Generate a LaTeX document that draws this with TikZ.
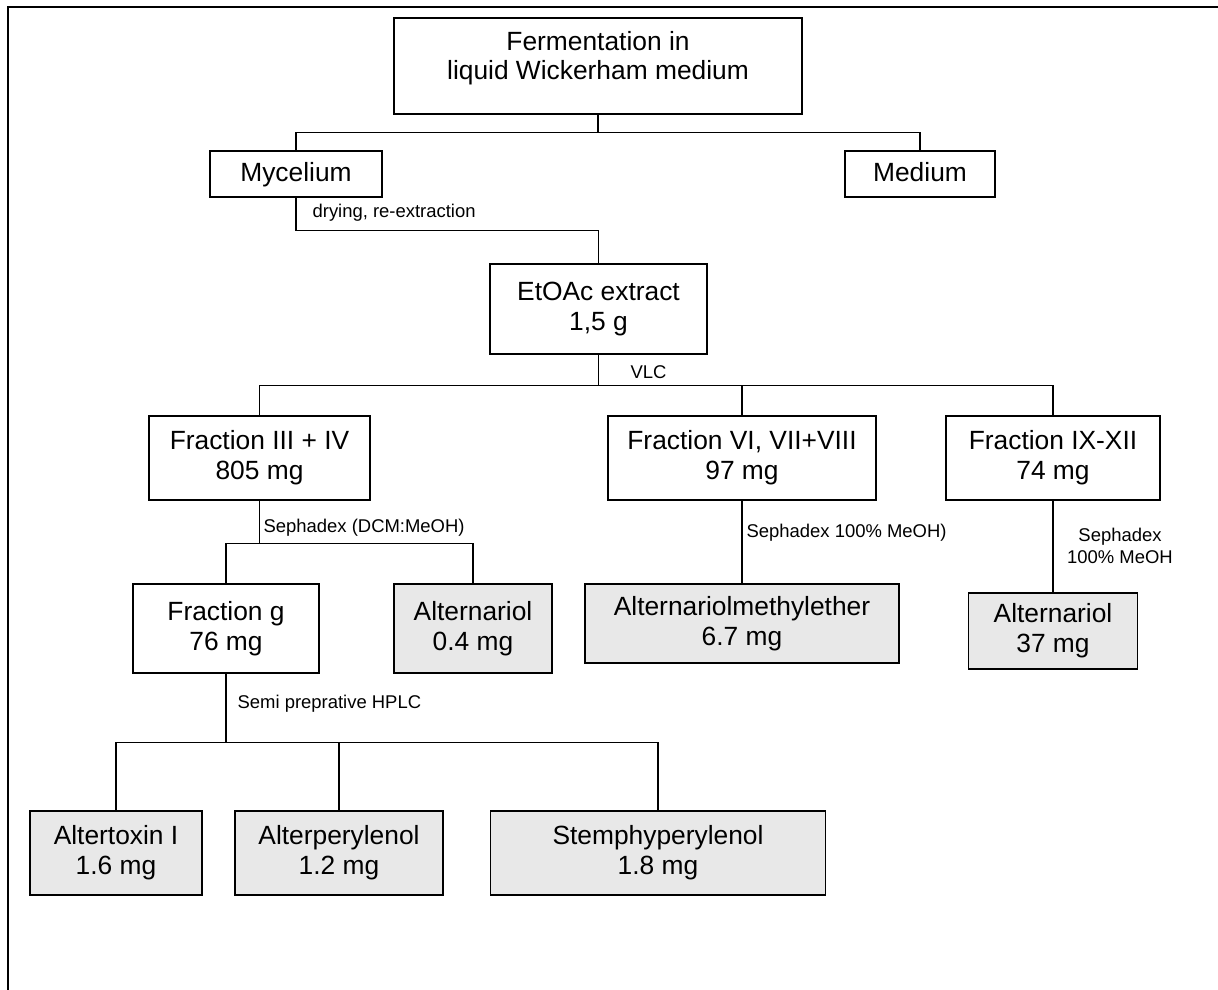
\documentclass[tikz,border=0pt]{standalone}
\usepackage{fontspec}
\setmainfont{Liberation Sans}
\usetikzlibrary{positioning}
\usetikzlibrary{calc}
\definecolor{isolgray}{RGB}{232,232,232}
\tikzset{
  box/.style={draw, line width=0.7pt, align=center, inner sep=0pt, font=\fontsize{15}{17}\selectfont},
  isol/.style={box, fill=isolgray},
  note/.style={inner sep=0pt, anchor=west, font=\fontsize{10.5}{12.5}\selectfont}
}

\begin{document}
\begin{tikzpicture}[x=0.02cm, y=-0.02cm, line width=0.7pt]
\useasboundingbox (0,0) rectangle (1218,990);
\draw[line width=1.5pt] (8,990) -- (8,7) -- (1218,7);

\node (A1) [box, minimum width=8.16cm, minimum height=1.92cm, text depth=12pt] at (598,66) {Fermentation in\\liquid Wickerham medium};

\node (B1) [box, minimum width=3.44cm, minimum height=0.92cm, text height=11pt, text depth=3pt] at (296,174) {Mycelium};
\node (B2) [box, minimum width=3.00cm, minimum height=0.92cm, text height=11pt, text depth=3pt] at (920,174) {Medium};

\node (C1) [box, minimum width=4.34cm, minimum height=1.80cm] at (598.5,309) {EtOAc extract\\1,5 g};

\node (D1) [box, minimum width=4.42cm, minimum height=1.68cm] at (259.5,458) {Fraction III + IV\\805 mg};
\node (D2) [box, minimum width=5.36cm, minimum height=1.68cm] at (742,458) {Fraction VI, VII+VIII\\97 mg};
\node (D3) [box, minimum width=4.28cm, minimum height=1.68cm] at (1053,458) {Fraction IX-XII\\74 mg};

\node (E1) [box, minimum width=3.72cm, minimum height=1.78cm] at (226,628.5) {Fraction g\\76 mg};
\node (E2) [isol, minimum width=3.16cm, minimum height=1.78cm] at (473,628.5) {Alternariol\\0.4 mg};
\node (E3) [isol, minimum width=6.28cm, minimum height=1.58cm] at (742,623.5) {Alternariolmethylether\\6.7 mg};
\node (E4) [isol, minimum width=3.38cm, minimum height=1.52cm] at (1053,631) {Alternariol\\37 mg};

\node (F1) [isol, minimum width=3.44cm, minimum height=1.68cm] at (116,853) {Altertoxin I\\1.6 mg};
\node (F2) [isol, minimum width=4.16cm, minimum height=1.68cm] at (339,853) {Alterperylenol\\1.2 mg};
\node (F3) [isol, minimum width=6.70cm, minimum height=1.68cm] at (658,853) {Stemphyperylenol\\1.8 mg};

\node (L1) [note] at (312,213) {drying, re-extraction};
\node (L2) [note] at (630,372) {VLC};
\node (L3) [note] at (263,528) {Sephadex (DCM:MeOH)};
\node (L4) [note] at (746,533) {Sephadex 100\% MeOH)};
\node (L5) [note, anchor=center, align=center] at (1120,546) {Sephadex\\100\% MeOH};
\node (L6) [note] at (237,704) {Semi preprative HPLC};

\draw (A1.south) -- ++(0,18) -| (B1.north);
\draw (A1.south) -- ++(0,18) -| (B2.north);
\draw (B1.south) -- ++(0,33) -| (C1.north);
\draw (C1.south) -- ++(0,31) -| (D1.north);
\draw (C1.south) -- ++(0,31) -| (D2.north);
\draw (C1.south) -- ++(0,31) -| (D3.north);
\draw (D1.south) -- ++(0,43) -| (E1.north);
\draw (D1.south) -- ++(0,43) -| (E2.north);
\draw (D2.south) -- (E3.north);
\draw (D3.south) -- (E4.north);
\draw (E1.south) -- ++(0,69) -| (F1.north);
\draw (E1.south) -- ++(0,69) -| (F2.north);
\draw (E1.south) -- ++(0,69) -| (F3.north);
\end{tikzpicture}
\end{document}
